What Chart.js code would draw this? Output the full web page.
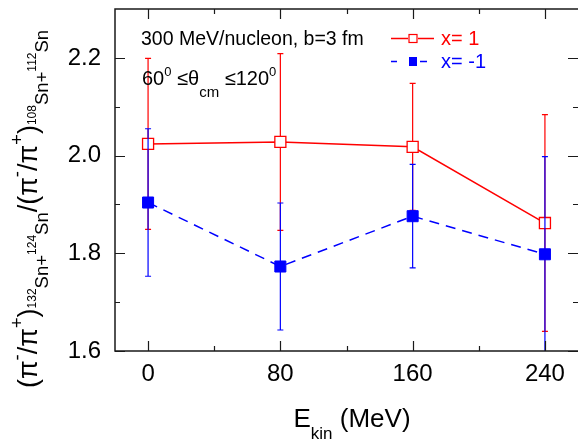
<!DOCTYPE html>
<html><head><meta charset="utf-8">
<script src="https://cdn.jsdelivr.net/npm/chart.js@4"></script>
<style>html,body{margin:0;padding:0;background:#fff}#wrap{width:578px;height:439px}</style>
</head><body><div id="wrap"><canvas id="c" width="578" height="439"></canvas></div>
<script>
const energies = [0, 80, 160, 240];
const ratioX1 = [2.024, 2.028, 2.018, 1.862];
const errX1 = [0.175, 0.181, 0.130, 0.222];
const ratioXm1 = [1.904, 1.773, 1.876, 1.798];
const errXm1 = [0.151, 0.130, 0.106, 0.200];
const xTicks = [0, 80, 160, 240];
const xMinorTicks = [40, 120, 200];
const yTicks = [1.6, 1.8, 2.0, 2.2];
const yMinorTicks = [1.7, 1.9, 2.1];
const labelX1 = 'x= 1';
const labelXm1 = 'x= -1';

const FONT = '"Liberation Sans", Arial, sans-serif';
const RED = '#ff0000', BLUE = '#0000ff', AX = '#1a1a1a';

function runsWidth(ctx, runs) {
  let w = 0;
  runs.forEach(r => { ctx.font = r[1] + 'px ' + FONT; w += ctx.measureText(r[0]).width; });
  return w;
}
function drawRuns(ctx, runs, x, y, center) {
  let cx = center ? x - runsWidth(ctx, runs) / 2 : x;
  ctx.textBaseline = 'alphabetic'; ctx.textAlign = 'left';
  runs.forEach(r => {
    ctx.font = r[1] + 'px ' + FONT;
    ctx.fillText(r[0], cx, y + r[2]);
    cx += ctx.measureText(r[0]).width;
  });
}

const decor = {
  id: 'decor',
  afterLayout(chart) {
    // let the plot frame run to the right edge of the canvas, as in the original
    const xs = chart.scales.x;
    xs.right = chart.width;
    xs.width = xs.right - xs.left;
    xs.configure();
    chart.chartArea.right = chart.width;
    chart.chartArea.width = chart.chartArea.right - chart.chartArea.left;
  },
  beforeDatasetDraw(chart, args) {
    const ds = chart.data.datasets[args.index];
    const xs = chart.scales.x, ys = chart.scales.y, a = chart.chartArea, ctx = chart.ctx;
    ctx.save();
    ctx.beginPath(); ctx.rect(a.left, a.top, a.right - a.left, a.bottom - a.top); ctx.clip();
    ctx.strokeStyle = ds.errorColor; ctx.lineWidth = 1.2; ctx.setLineDash([]);
    ds.data.forEach((p, i) => {
      const e = ds.errors[i];
      const px = xs.getPixelForValue(p.x);
      const y1 = ys.getPixelForValue(p.y + e);
      const y2 = ys.getPixelForValue(p.y - e);
      ctx.beginPath();
      ctx.moveTo(px, y1); ctx.lineTo(px, y2);
      ctx.moveTo(px - 3, y1); ctx.lineTo(px + 3, y1);
      ctx.moveTo(px - 3, y2); ctx.lineTo(px + 3, y2);
      ctx.stroke();
    });
    ctx.restore();
  },
  afterDatasetsDraw(chart) {
    const xs = chart.scales.x, ys = chart.scales.y, a = chart.chartArea, ctx = chart.ctx;
    ctx.save();
    ctx.strokeStyle = AX; ctx.lineWidth = 1.5;
    const L = a.left, R = a.right + 1, T = a.top, B = a.bottom;
    ctx.beginPath();
    ctx.moveTo(L, T); ctx.lineTo(R, T); ctx.lineTo(R, B); ctx.lineTo(L, B); ctx.closePath();
    ctx.stroke();
    ctx.lineWidth = 1.2;
    ctx.beginPath();
    const xt = (v, len) => { const p = Math.round(xs.getPixelForValue(v)) + 0.5;
      ctx.moveTo(p, B); ctx.lineTo(p, B - len); ctx.moveTo(p, T); ctx.lineTo(p, T + len); };
    const yt = (v, len) => { const p = Math.round(ys.getPixelForValue(v)) + 0.5;
      ctx.moveTo(L, p); ctx.lineTo(L + len, p); ctx.moveTo(R - 1, p); ctx.lineTo(R - 1 - len, p); };
    xTicks.forEach(v => xt(v, 10)); xMinorTicks.forEach(v => xt(v, 5));
    yTicks.forEach(v => yt(v, 10)); yMinorTicks.forEach(v => yt(v, 5));
    ctx.stroke();
    ctx.restore();
  },
  afterDraw(chart) {
    const ctx = chart.ctx;
    ctx.save();
    ctx.fillStyle = '#000';
    // x title
    drawRuns(ctx, [['E', 26, 0], ['kin', 17, 12], [' (MeV)', 26, 0]], 352, 427, true);
    // y title
    ctx.save();
    ctx.translate(37, 209);
    ctx.rotate(-Math.PI / 2);
    const M = 27, S = 18.5, T = 12;
    drawRuns(ctx, [
      ['(', M, 0], ['\u03c0', M, 0], ['-', S, -14], ['/', M, 0], ['\u03c0', M, 0], ['+', S, -14], [')', M, 0],
      ['132', T, -1], ['Sn+', S, 11], ['124', T, -1], ['Sn', S, 11],
      ['/', M, 0], ['(', M, 0], ['\u03c0', M, 0], ['-', S, -14], ['/', M, 0], ['\u03c0', M, 0], ['+', S, -14], [')', M, 0],
      ['108', T, -1], ['Sn+', S, 11], ['112', T, -1], ['Sn', S, 11]
    ], 0, 0, true);
    ctx.restore();
    // annotations
    drawRuns(ctx, [['300 MeV/nucleon, b=3 fm', 19.5, 0]], 141, 45, false);
    drawRuns(ctx, [['60', 20, 0], ['0', 13, -9], [' \u2264\u03b8', 20, 0], ['cm', 15, 12], [' \u2264120', 20, 0], ['0', 13, -9]], 142, 85, false);
    // legend
    ctx.lineWidth = 1.5;
    ctx.strokeStyle = RED;
    ctx.beginPath(); ctx.moveTo(391, 38.5); ctx.lineTo(408, 38.5); ctx.moveTo(418, 38.5); ctx.lineTo(434, 38.5); ctx.stroke();
    ctx.lineWidth = 1.2;
    ctx.fillStyle = '#fff'; ctx.fillRect(409, 34.5, 8, 8); ctx.strokeRect(409, 34.5, 8, 8);
    ctx.fillStyle = RED;
    drawRuns(ctx, [[labelX1, 20, 0]], 441, 45, false);
    ctx.strokeStyle = BLUE; ctx.lineWidth = 1.5;
    ctx.beginPath(); ctx.moveTo(391, 61.5); ctx.lineTo(397, 61.5); ctx.moveTo(420, 61.5); ctx.lineTo(427, 61.5); ctx.stroke();
    ctx.fillStyle = BLUE; ctx.fillRect(409, 57, 8, 9);
    drawRuns(ctx, [[labelXm1, 20, 0]], 441, 68, false);
    ctx.restore();
  }
};

const mk = (ys) => energies.map((e, i) => ({ x: e, y: ys[i] }));

new Chart(document.getElementById('c'), {
  type: 'line',
  data: {
    datasets: [
      {
        label: labelX1, data: mk(ratioX1), errors: errX1, errorColor: RED, order: 2,
        borderColor: RED, borderWidth: 1.5, fill: false, tension: 0,
        pointStyle: 'rect', pointRadius: 7.8, pointBorderWidth: 1.3,
        pointBackgroundColor: '#ffffff', pointBorderColor: RED
      },
      {
        label: labelXm1, data: mk(ratioXm1), errors: errXm1, errorColor: BLUE, order: 1,
        borderColor: BLUE, borderWidth: 1.5, borderDash: [10, 7], fill: false, tension: 0,
        pointStyle: 'rect', pointRadius: 7.8, pointBorderWidth: 1,
        pointBackgroundColor: BLUE, pointBorderColor: BLUE
      }
    ]
  },
  options: {
    responsive: false, animation: false, devicePixelRatio: 1,
    layout: { padding: { top: 5, right: 0, left: 0, bottom: 0 } },
    plugins: { legend: { display: false }, tooltip: { enabled: false } },
    scales: {
      x: {
        type: 'linear', min: -20, max: 260,
        grid: { display: false, drawTicks: false }, border: { display: false },
        afterBuildTicks: s => { s.ticks = xTicks.map(v => ({ value: v })); },
        afterFit: s => { s.height = 88; s.paddingLeft = 0; s.paddingRight = 0; },
        ticks: { padding: 9, color: '#000', font: { family: FONT, size: 24 }, maxRotation: 0, callback: v => String(v) }
      },
      y: {
        type: 'linear', min: 1.6, max: 2.3,
        grid: { display: false, drawTicks: false }, border: { display: false },
        afterBuildTicks: s => { s.ticks = yTicks.map(v => ({ value: v })); },
        afterFit: s => { s.width = 115; s.paddingTop = 0; s.paddingBottom = 0; },
        ticks: { padding: 14, color: '#000', font: { family: FONT, size: 24 }, callback: v => Number(v).toFixed(1) }
      }
    }
  },
  plugins: [decor]
});
</script></body></html>
